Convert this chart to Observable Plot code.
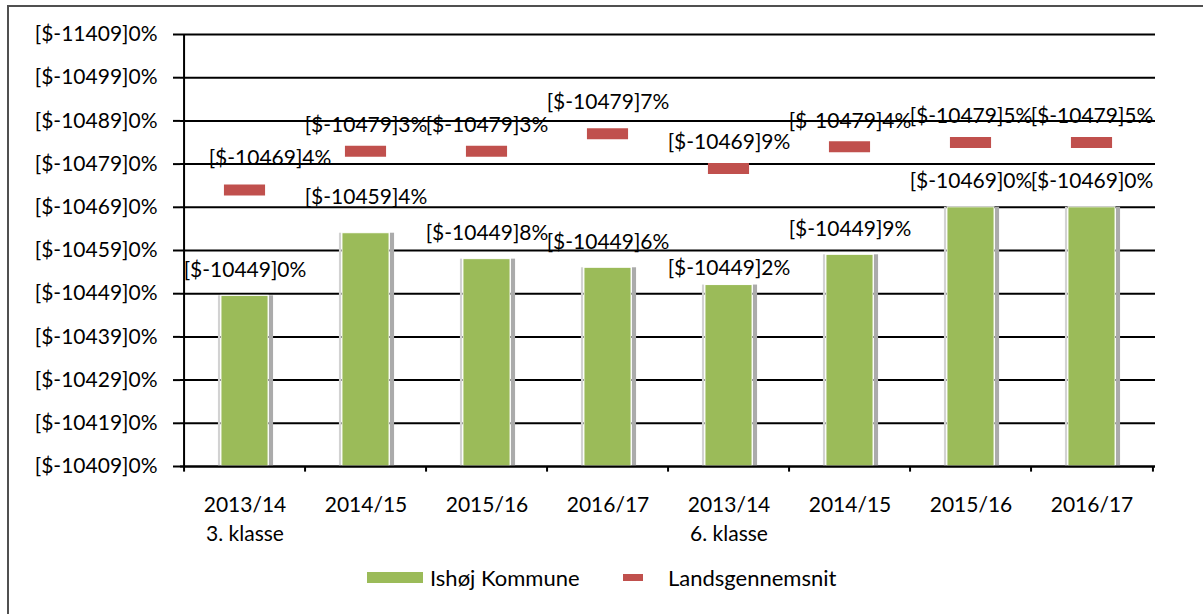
<!DOCTYPE html>
<html>
<head>
<meta charset="utf-8">
<script src="https://cdn.jsdelivr.net/npm/d3@7"></script>
<script src="https://cdn.jsdelivr.net/npm/@observablehq/plot@0.6"></script>
<style>
  html, body { margin: 0; padding: 0; background: #fff; overflow: hidden; }
  #wrap { position: relative; width: 1203px; height: 614px; font-family: Lato, sans-serif; }
  #frame { position: absolute; left: 7px; top: 5px; width: 1300px; height: 700px; border-left: 2px solid #505050; border-top: 2px solid #505050; }
  #chart { position: absolute; left: 0; top: 0; }
  .legend { position: absolute; top: 566px; left: 0; font-size: 22px; color: #000; }
  .legend .item { position: absolute; white-space: nowrap; display: flex; align-items: center; }
</style>
</head>
<body>
<div id="wrap">
  <div id="frame"></div>
  <div id="chart"></div>
  <div class="legend" id="legend"></div>
</div>
<script>
const categories = ["2013/14\n3. klasse", "2014/15", "2015/16", "2016/17", "2013/14\n6. klasse", "2014/15", "2015/16", "2016/17"];
const ishoj = [0.395, 0.54, 0.48, 0.46, 0.42, 0.49, 0.60, 0.60];
const lands = [0.64, 0.73, 0.73, 0.77, 0.69, 0.74, 0.75, 0.75];
const ishojLabels = ["[$-10449]0%", "[$-10459]4%", "[$-10449]8%", "[$-10449]6%", "[$-10449]2%", "[$-10449]9%", "[$-10469]0%", "[$-10469]0%"];
const landsLabels = ["[$-10469]4%", "[$-10479]3%", "[$-10479]3%", "[$-10479]7%", "[$-10469]9%", "[$-10479]4%", "[$-10479]5%", "[$-10479]5%"];
const yTicks = [0, 0.1, 0.2, 0.3, 0.4, 0.5, 0.6, 0.7, 0.8, 0.9, 1.0];
const yTickLabels = ["[$-10409]0%", "[$-10419]0%", "[$-10429]0%", "[$-10439]0%", "[$-10449]0%", "[$-10459]0%", "[$-10469]0%", "[$-10479]0%", "[$-10489]0%", "[$-10499]0%", "[$-11409]0%"];
const seriesNames = ["Ishøj Kommune", "Landsgennemsnit"];
const colors = ["#9BBB59", "#C0504D"];

const keys = categories.map((c, i) => String(i));
const rows = keys.map((k, i) => ({key: k, ishoj: ishoj[i], lands: lands[i], il: ishojLabels[i], ll: landsLabels[i], i}));

const W = 1203, H = 560;
const mL = 180, mR = 48, mT = 34, mB = H - 466;
const step = (W - mL - mR) / keys.length;
const barW = 48, markW = 42;
const barIn = (step - barW) / 2;
const markIn = (step - markW) / 2;

// label vertical offsets (Excel avoided overlaps on a few labels)
const barDy = i => ({1: -36, 4: -17}[i] ?? -26);
const markDy = i => ({0: -32, 3: -32}[i] ?? -26);
const markDx = i => ({0: 25}[i] ?? 0);

function groupedText(getDy, getDx, yField, textField) {
  const groups = d3.group(rows, d => getDy(d.i) + "|" + getDx(d.i));
  return Array.from(groups, ([g, data]) => {
    const [dy, dx] = g.split("|").map(Number);
    return Plot.text(data, {x: "key", y: yField, text: textField, dy, dx, fill: "#000", fontSize: 21});
  });
}

const chart = Plot.plot({
  width: W, height: H,
  marginLeft: mL, marginRight: mR, marginTop: mT, marginBottom: mB,
  style: {fontFamily: "Lato, sans-serif", fontSize: "21px", color: "#000", background: "transparent", overflow: "visible"},
  x: {type: "band", domain: keys, padding: 0, label: null},
  y: {domain: [0, 1], label: null},
  marks: [
    Plot.ruleY(yTicks, {stroke: "#000", strokeWidth: 2}),
    // bar shadows
    Plot.barY(rows, {x: "key", y: "ishoj", insetLeft: barIn - 3, insetRight: step - barIn, fill: "#d2d2d2"}),
    Plot.barY(rows, {x: "key", y: "ishoj", insetLeft: step - barIn, insetRight: barIn - 5, fill: "#ababab"}),
    Plot.barY(rows, {x: "key", y: "ishoj", insetLeft: barIn, insetRight: barIn, fill: colors[0], stroke: "#fff", strokeWidth: 1}),
    Plot.tickY(rows, {x: "key", y: "lands", insetLeft: markIn, insetRight: markIn, stroke: colors[1], strokeWidth: 11}),
    Plot.ruleY([0], {stroke: "#000", strokeWidth: 2}),
    Plot.ruleX(keys, {x: d => d, dx: -step / 2, y1: 0, y2: -0.013, stroke: "#000", strokeWidth: 2}),
    Plot.ruleX(keys.slice(-1), {x: d => d, dx: step / 2, y1: 0, y2: -0.013, stroke: "#000", strokeWidth: 2}),
    Plot.ruleX([0], {x: () => keys[0], dx: -step / 2, y1: 0, y2: 1, stroke: "#000", strokeWidth: 2}),
    ...groupedText(barDy, () => 0, "ishoj", "il"),
    ...groupedText(markDy, markDx, "lands", "ll"),
    Plot.axisY({ticks: yTicks, tickFormat: (d, i) => yTickLabels[yTicks.indexOf(d)], tickSize: 7, tickPadding: 16, strokeWidth: 2, fontSize: 21, fill: "#000"}),
    Plot.axisX({tickFormat: k => categories[+k], tickSize: 0, tickPadding: 25, fontSize: 21, lineHeight: 1.38, fill: "#000"})
  ]
});
document.getElementById("chart").appendChild(chart);

const legend = document.getElementById("legend");
legend.innerHTML = `
  <div class="item" style="left:367px;top:0;height:22px;">
    <span style="display:inline-block;width:56px;height:11px;background:${colors[0]};margin-right:7px;"></span>${seriesNames[0]}
  </div>
  <div class="item" style="left:623px;top:0;height:22px;">
    <span style="display:inline-block;width:20px;height:7px;background:${colors[1]};margin-right:25px;"></span>${seriesNames[1]}
  </div>`;
</script>
</body>
</html>
